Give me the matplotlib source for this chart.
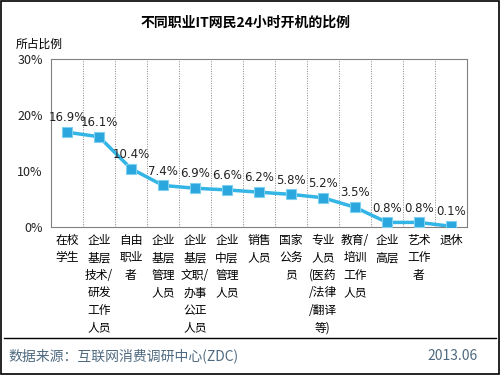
import matplotlib
matplotlib.use("Agg")
import matplotlib.pyplot as plt
import numpy as np

plt.rcParams['font.family'] = ['Noto Sans CJK SC', 'DejaVu Sans']

title = "不同职业IT网民24小时开机的比例"
ylabel = "所占比例"
categories = ["在校\n学生", "企业\n基层\n技术/\n研发\n工作\n人员", "自由\n职业\n者",
              "企业\n基层\n管理\n人员", "企业\n基层\n文职/\n办事\n公正\n人员",
              "企业\n中层\n管理\n人员", "销售\n人员", "国家\n公务\n员",
              "专业\n人员\n(医药\n/法律\n/翻译\n等)", "教育/\n培训\n工作\n人员",
              "企业\n高层", "艺术\n工作\n者", "退休"]
values = [16.9, 16.1, 10.4, 7.4, 6.9, 6.6, 6.2, 5.8, 5.2, 3.5, 0.8, 0.8, 0.1]
yticks = [0, 10, 20, 30]
source = "数据来源：互联网消费调研中心(ZDC)"
date = "2013.06"

fig = plt.figure(figsize=(5, 3.75), dpi=100)
ax = fig.add_axes([0.102, 0.395, 0.832, 0.448])
x = np.arange(len(values))
ax.plot(x, values, color='#33B5E5', lw=2.5, marker='s', ms=6.5,
        mfc='#2AA7DF', mec='#7FD0F0', mew=0.8, zorder=3)
for xi, v in zip(x, values):
    ax.text(xi, v + 1.4, f"{v:.1f}%", ha='center', va='bottom', fontsize=8.5,
            color='#222222', family=['DejaVu Sans'])
ax.set_xlim(-0.5, len(values) - 0.5)
ax.set_ylim(0, 30)
ax.set_yticks(yticks)
ax.set_yticklabels([f"{t}%" for t in yticks], fontsize=9, color='#222222')
ax.tick_params(axis='y', length=0, pad=6)
ax.tick_params(axis='x', length=0, pad=5)
ax.set_xticks(x)
ax.set_xticklabels(categories, fontsize=8.5, linespacing=1.45, va='top', ha='center',
                   multialignment='center')
for b in np.arange(0.5, len(values) - 0.5, 1):
    ax.axvline(b, color='#888888', lw=0.7, ls=(0, (1, 1.5)), zorder=1)
for s in ax.spines.values():
    s.set_color('#808080')
    s.set_linewidth(0.8)

fig.text(0.492, 0.94, title, ha='center', va='center', fontsize=10, fontweight='bold')
fig.text(0.032, 0.882, ylabel, ha='left', va='center', fontsize=8.5)

# footer
fig.add_artist(plt.Line2D([0.008, 0.992], [0.099, 0.099], color='black', lw=1, transform=fig.transFigure))
fig.text(0.016, 0.052, source, ha='left', va='center', fontsize=10, color='#4F6A80')
fig.text(0.955, 0.052, date, ha='right', va='center', fontsize=10, color='#4F6A80')

# outer border
fig.add_artist(plt.Rectangle((0.002, 0.003), 0.996, 0.994, fill=False, ec='black', lw=1.2,
                             transform=fig.transFigure))

fig.savefig("out.png", dpi=100)
